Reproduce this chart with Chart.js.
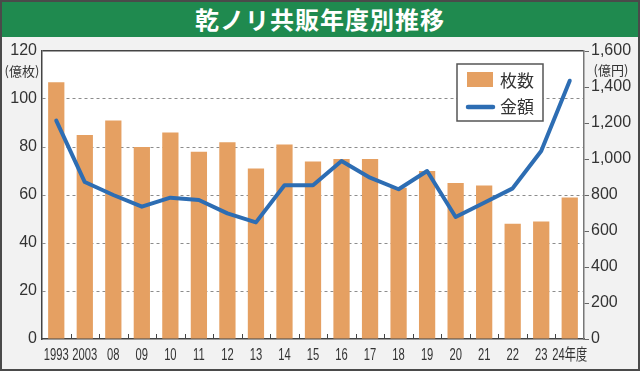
<!DOCTYPE html>
<html lang="ja">
<head>
<meta charset="utf-8">
<title>乾ノリ共販年度別推移</title>
<script src="https://cdn.jsdelivr.net/npm/chart.js@4.4.1/dist/chart.umd.min.js"></script>
<style>
  html, body { margin: 0; padding: 0; background: #f2f2f2; }
  #wrap { position: relative; width: 640px; height: 371px; overflow: hidden; }
  #chart { position: absolute; left: 0; top: 0; }
  #title {
    position: absolute; left: 0; top: 0; width: 640px; height: 37px;
    background: #1f8a4f; color: #fff; text-align: center;
    font: bold 24px "Noto Sans CJK JP", sans-serif; line-height: 38px;
    letter-spacing: 1px;
  }
  #frame {
    position: absolute; left: 0; top: 0; width: 640px; height: 371px;
    box-sizing: border-box; border: 2px solid #4a4a4a; pointer-events: none;
  }
</style>
</head>
<body>
<div id="wrap">
  <canvas id="chart" width="640" height="371"></canvas>
  <div id="title">乾ノリ共販年度別推移</div>
  <div id="frame"></div>
</div>
<script>
// 共販年度
const years = ["1993", "2003", "08", "09", "10", "11", "12", "13", "14", "15",
  "16", "17", "18", "19", "20", "21", "22", "23", "24年度"];
// 枚数（億枚）
const sheetCounts = [107, 85, 91, 80, 86, 78, 82, 71, 81, 74,
  75, 75, 63, 70, 65, 64, 48, 49, 59];
// 金額（億円）
const amounts = [1213, 872, 800, 735, 785, 772, 698, 648, 854, 854,
  989, 896, 832, 933, 678, 757, 837, 1044, 1435];

const BAR_COLOR = "#e5a062";
const LINE_COLOR = "#2d6db3";
const TEXT_COLOR = "#333";
const NUM_FONT = "'Liberation Sans', Arial, sans-serif";
const JP_FONT = "'Noto Sans CJK JP', sans-serif";

// 描画エリアの白背景
const plotBackground = {
  id: "plotBackground",
  beforeDraw(chart) {
    const { ctx, chartArea: a } = chart;
    ctx.save();
    ctx.fillStyle = "#fff";
    ctx.fillRect(a.left, a.top, a.right - a.left, a.bottom - a.top);
    ctx.restore();
  },
};

// x軸ラベル（長体）、区切り目盛り、単位、凡例
const extras = {
  id: "extras",
  afterDraw(chart) {
    const { ctx, chartArea: a } = chart;
    const x = chart.scales.x;
    ctx.save();

    // 区切り目盛り（内向き）
    ctx.strokeStyle = "#444";
    ctx.lineWidth = 1;
    const half = (x.getPixelForValue(1) - x.getPixelForValue(0)) / 2;
    for (let i = 0; i < years.length - 1; i++) {
      const px = Math.round(x.getPixelForValue(i) + half) + 0.5;
      ctx.beginPath();
      ctx.moveTo(px, a.bottom);
      ctx.lineTo(px, a.bottom - 5);
      ctx.stroke();
    }

    // 年度ラベル：横幅を詰めて描く
    ctx.fillStyle = TEXT_COLOR;
    ctx.font = "16px " + NUM_FONT + ", " + JP_FONT;
    ctx.textAlign = "center";
    ctx.textBaseline = "middle";
    years.forEach((label, i) => {
      ctx.save();
      ctx.translate(x.getPixelForValue(i), a.bottom + 17);
      ctx.scale(0.7, 1);
      ctx.fillText(label, 0, 0);
      ctx.restore();
    });

    // 単位
    ctx.font = "13px " + JP_FONT;
    ctx.fillText("(億枚)", 22, 71);
    ctx.fillText("(億円)", 611, 70);

    // 凡例
    const bars = chart.data.datasets.find((d) => d.type === "bar");
    const line = chart.data.datasets.find((d) => d.type === "line");
    const lx = 457, ly = 64, lw = 86, lh = 57;
    ctx.fillStyle = "#fff";
    ctx.fillRect(lx, ly, lw, lh);
    ctx.strokeStyle = "#555";
    ctx.lineWidth = 1.5;
    ctx.strokeRect(lx, ly, lw, lh);

    ctx.fillStyle = bars.backgroundColor;
    ctx.fillRect(lx + 10, ly + 8, 26, 15);
    ctx.strokeStyle = line.borderColor;
    ctx.lineWidth = 4.5;
    ctx.lineCap = "round";
    ctx.beginPath();
    ctx.moveTo(lx + 11, ly + 43);
    ctx.lineTo(lx + 36, ly + 43);
    ctx.stroke();

    ctx.fillStyle = TEXT_COLOR;
    ctx.font = "17px " + JP_FONT;
    ctx.textAlign = "left";
    ctx.fillText(bars.label, lx + 43, ly + 17);
    ctx.fillText(line.label, lx + 43, ly + 43);
    ctx.restore();
  },
};

const chart = new Chart(document.getElementById("chart"), {
  data: {
    labels: years,
    datasets: [
      {
        type: "line",
        label: "金額",
        data: amounts,
        yAxisID: "y1",
        borderColor: LINE_COLOR,
        borderWidth: 4,
        borderCapStyle: "round",
        borderJoinStyle: "round",
        pointRadius: 0,
        tension: 0,
        order: 0,
      },
      {
        type: "bar",
        label: "枚数",
        data: sheetCounts,
        yAxisID: "y",
        backgroundColor: BAR_COLOR,
        categoryPercentage: 1,
        barPercentage: 0.57,
        order: 1,
      },
    ],
  },
  options: {
    responsive: false,
    animation: false,
    devicePixelRatio: 1,
    layout: { padding: { top: 51, left: 0, right: 0, bottom: 0 } },
    plugins: {
      legend: { display: false },
      title: { display: false },
      tooltip: { enabled: false },
    },
    scales: {
      x: {
        offset: true,
        grid: { display: false },
        border: { display: true, color: "#444", width: 1.5 },
        ticks: { display: false, autoSkip: false },
        afterFit(scale) { scale.height = 32; },
      },
      y: {
        position: "left",
        min: 0,
        max: 120,
        ticks: {
          stepSize: 20,
          color: TEXT_COLOR,
          font: { family: NUM_FONT, size: 16 },
          padding: 5,
        },
        grid: {
          drawTicks: false,
          lineWidth: (c) => (c.tick && c.tick.value === 120 ? 1.5 : 1),
          color: (c) => {
            if (!c.tick || c.tick.value === 0) return "rgba(0,0,0,0)";
            return c.tick.value === 120 ? "#444" : "#8c8c8c";
          },
        },
        border: {
          display: true,
          color: "#444",
          width: 1.5,
          dash: (c) => (c.tick && c.tick.value === 120 ? [] : [3, 3]),
        },
        afterFit(scale) { scale.width = 42; },
      },
      y1: {
        position: "right",
        min: 0,
        max: 1600,
        ticks: {
          stepSize: 200,
          color: TEXT_COLOR,
          font: { family: NUM_FONT, size: 16 },
          padding: 2,
          callback: (v) => v.toLocaleString("en-US"),
        },
        grid: {
          drawOnChartArea: false,
          drawTicks: true,
          tickLength: 5,
          tickColor: "#666",
        },
        border: { display: true, color: "#777", width: 1.5 },
        afterFit(scale) { scale.width = 56; },
      },
    },
  },
  plugins: [plotBackground, extras],
});
</script>
</body>
</html>
